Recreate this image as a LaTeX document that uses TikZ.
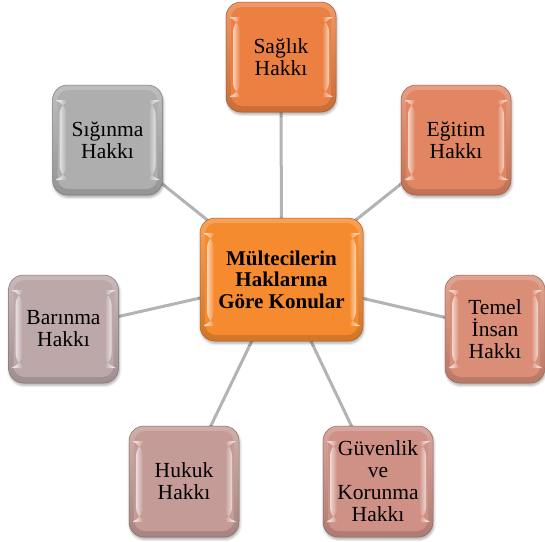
\documentclass[tikz,border=0pt]{standalone}
\usepackage{fontspec}
\setmainfont{Liberation Serif}
\usetikzlibrary{shadows.blur,backgrounds}
\definecolor{csag}{HTML}{EB8042}
\definecolor{cegt}{HTML}{E28562}
\definecolor{ctem}{HTML}{DA8D77}
\definecolor{cguv}{HTML}{CF9086}
\definecolor{chuk}{HTML}{C49B96}
\definecolor{cbar}{HTML}{BCA7A9}
\definecolor{csig}{HTML}{AEAEAE}
\definecolor{ccen}{HTML}{F68A2E}
\definecolor{cline}{HTML}{B3B3B3}
\tikzset{
  bevel/.style={rectangle, rounded corners=15pt, inner sep=0pt, align=center, text=black,
    draw=#1!70!black, line width=0.5pt,
    top color=#1!80!white, bottom color=#1!85!black,
    blur shadow={shadow xshift=0.8pt, shadow yshift=-2.2pt, shadow blur radius=2.5pt, shadow opacity=35},
    font=\fontsize{21.5}{22}\selectfont,
    path picture={
      \fill[#1, rounded corners=11pt]
        ([shift={(5pt,-5pt)}]path picture bounding box.north west) rectangle
        ([shift={(-5pt,6pt)}]path picture bounding box.south east);
      \shade[left color=white!65!#1, right color=#1]
        ([shift={(7pt,-15pt)}]path picture bounding box.north west) rectangle
        ([shift={(14pt,15pt)}]path picture bounding box.south west);
      \shade[right color=white!65!#1, left color=#1]
        ([shift={(-14pt,-15pt)}]path picture bounding box.north east) rectangle
        ([shift={(-7pt,15pt)}]path picture bounding box.south east);
    }},
  sat/.style={bevel=#1, minimum width=110pt, minimum height=110pt},
  hub/.style={bevel=ccen, minimum width=163pt, minimum height=123pt,
    font=\bfseries\fontsize{21}{21.5}\selectfont},
  spoke/.style={draw=cline, line width=3pt}
}
\begin{document}
\begin{tikzpicture}[x=1pt,y=-1pt]
\useasboundingbox (0,0) rectangle (545,541);
\node[hub] (cen) at (281.5,279.5) {Mültecilerin\\Haklarına\\Göre Konular};
\node[sat=csag] (sag) at (281,57) {Sağlık\\Hakkı};
\node[sat=csig] (sig) at (107.5,140) {Sığınma\\Hakkı};
\node[sat=cegt] (egt) at (456,140) {Eğitim\\Hakkı};
\node[sat=cbar, minimum height=108pt] (bar) at (63.5,329) {Barınma\\Hakkı};
\node[sat=ctem, minimum width=100pt, minimum height=108pt] (tem) at (495,329) {Temel\\İnsan\\Hakkı};
\node[sat=chuk, minimum height=111pt] (huk) at (184,481.5) {Hukuk\\Hakkı};
\node[sat=cguv, minimum height=111pt] (guv) at (378,481.5) {Güvenlik\\ve\\Korunma\\Hakkı};
\begin{pgfonlayer}{background}
\foreach \n in {sag,sig,egt,bar,tem,huk,guv}
  \draw[spoke] (cen.center) -- (\n.center);
\end{pgfonlayer}
\end{tikzpicture}
\end{document}
